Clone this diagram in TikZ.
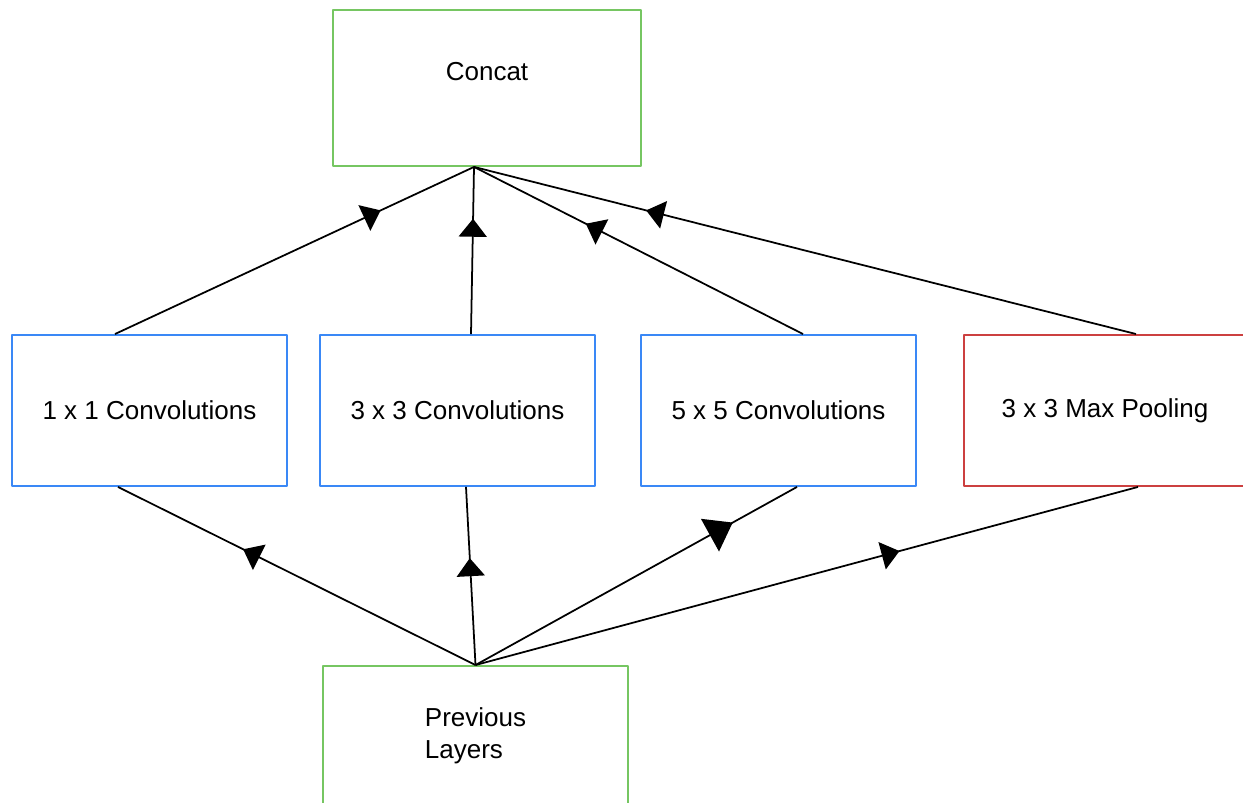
\documentclass[tikz,border=0pt]{standalone}
\usepackage{fontspec}
\setmainfont{Liberation Sans}
\usetikzlibrary{arrows.meta,decorations.markings}

\definecolor{boxgreen}{RGB}{118,198,98}
\definecolor{boxblue}{RGB}{58,136,246}
\definecolor{boxred}{RGB}{204,64,64}

\begin{document}
\begin{tikzpicture}[
    x=0.02cm,
    y=0.02cm,
    font=\fontsize{14.8}{18.2}\selectfont,
    line join=round,
    box/.style={
        draw,
        line width=1.1pt,
        rectangle,
        minimum width=5.5cm,
        minimum height=3.02cm,
        inner sep=0pt,
        align=center
    },
    layer/.style={box, draw=boxblue},
    flow/.style={
        line width=1pt,
        postaction={decorate},
        decoration={markings,
            mark=at position #1 with {\arrow{Triangle[length=0.36cm,width=0.56cm]}}}
    },
    bigflow/.style={
        line width=1pt,
        postaction={decorate},
        decoration={markings,
            mark=at position #1 with {\arrow{Triangle[length=0.52cm,width=0.74cm]}}}
    }
]
\clip (0,0) rectangle (1243,803);

% =========================
% Nodes
% =========================
\node[box, draw=boxgreen, minimum width=6.16cm, minimum height=3.12cm,
      text depth=0.68cm] (concat) at (487,715) {Concat};

\node[layer] (conv1) at (149.5,392.5) {1 x 1 Convolutions};
\node[layer] (conv3) at (457.5,392.5) {3 x 3 Convolutions};
\node[layer] (conv5) at (778.5,392.5) {5 x 5 Convolutions};
\node[box, draw=boxred, minimum width=5.64cm] (pool) at (1105,392.5) {3 x 3 Max Pooling};

\node[box, draw=boxgreen, minimum width=6.1cm, minimum height=2.8cm,
      align=left] (prev) at (475.5,67) {Previous\\Layers};

% =========================
% Previous layers to branches
% =========================
\draw[flow=0.65] (prev.north) -- ([xshift=-0.63cm]conv1.south);
\draw[flow=0.6] (prev.north) -- ([xshift=0.17cm]conv3.south);
\draw[bigflow=0.8] (prev.north) -- ([xshift=0.37cm]conv5.south);
\draw[flow=0.64] (prev.north) -- ([xshift=0.66cm]pool.south);

% =========================
% Branches to concat
% =========================
\draw[flow=0.74] ([xshift=-0.69cm]conv1.north) -- ([xshift=-0.26cm]concat.south);
\draw[flow=0.69] ([xshift=0.27cm]conv3.north) -- ([xshift=-0.26cm]concat.south);
\draw[flow=0.66] ([xshift=0.49cm]conv5.north) -- ([xshift=-0.26cm]concat.south);
\draw[flow=0.74] ([xshift=0.62cm]pool.north) -- ([xshift=-0.26cm]concat.south);

\end{tikzpicture}
\end{document}
